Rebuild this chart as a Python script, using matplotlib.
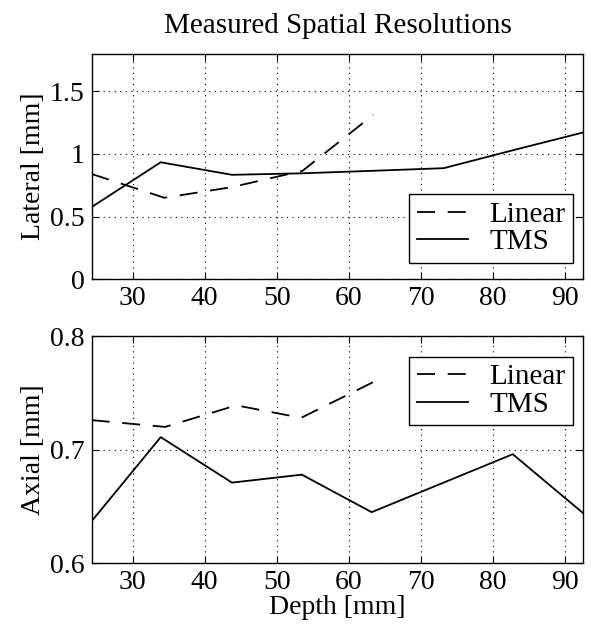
import numpy as np
import matplotlib
matplotlib.use("Agg")
from matplotlib import pyplot as plt

# 深度 (mm)
depth_linear = [24.3, 34.4, 43.8, 53.6, 63.4]
depth_tms = [24.3, 33.9, 43.8, 53.5, 63.3, 73.2, 82.9, 92.6]

# 横向分辨率 (mm)
lateral_linear = [0.84, 0.65, 0.735, 0.865, 1.31]
lateral_tms = [0.576, 0.933, 0.833, 0.845, 0.865, 0.886, 1.03, 1.171]

# 轴向分辨率 (mm)
depth_linear_ax = [24.3, 34.5, 44.4, 53.4, 63.6]
axial_linear = [0.726, 0.720, 0.739, 0.728, 0.760]
depth_tms_ax = [24.3, 33.9, 43.8, 53.5, 63.2, 82.8, 92.6]
axial_tms = [0.637, 0.711, 0.671, 0.678, 0.645, 0.696, 0.644]

plt.rcParams['font.family'] = ['Liberation Serif', 'DejaVu Serif']

fig = plt.figure(figsize=(5.91, 6.37), dpi=100)
ax1 = fig.add_axes([0.155, 0.5615, 0.832, 0.3545])
ax2 = fig.add_axes([0.155, 0.1157, 0.832, 0.3568])

dash = (0, (10, 7))
lw = 1.3
for ax in (ax1, ax2):
    ax.set_xlim(24.3, 92.6)
    ax.set_xticks([30, 40, 50, 60, 70, 80, 90])
    ax.tick_params(direction='in', top=True, right=True, labelsize=20,
                   length=5, width=0.8, pad=5)
    ax.grid(True, linestyle=(0, (1, 4)), color='black', linewidth=0.8)
    for s in ax.spines.values():
        s.set_linewidth(1.0)

leg_kw = dict(fontsize=21, fancybox=False, edgecolor='black', framealpha=1,
              handlelength=1.75, handletextpad=0.75, borderpad=0.25,
              labelspacing=0.03, borderaxespad=0)

ax1.plot(depth_linear, lateral_linear, color='black', linestyle=dash, linewidth=lw, label='Linear')
ax1.plot(depth_tms, lateral_tms, color='black', linewidth=lw, label='TMS')
ax1.set_ylim(0, 1.8)
ax1.set_yticks([0, 0.5, 1, 1.5])
ax1.set_yticklabels(['0', '0.5', '1', '1.5'])
ax1.set_ylabel('Lateral [mm]', fontsize=20, labelpad=3)
ax1.set_title('Measured Spatial Resolutions', fontsize=21, pad=15)
leg1 = ax1.legend(loc='lower right', bbox_to_anchor=(0.9695, 0.5876),
                  bbox_transform=fig.transFigure, **leg_kw)
leg1.get_frame().set_linewidth(1.0)

ax2.plot(depth_linear_ax, axial_linear, color='black', linestyle=dash, linewidth=lw, label='Linear')
ax2.plot(depth_tms_ax, axial_tms, color='black', linewidth=lw, label='TMS')
ax2.set_ylim(0.6, 0.8)
ax2.set_yticks([0.6, 0.7, 0.8])
ax2.set_yticklabels(['0.6', '0.7', '0.8'])
ax2.set_ylabel('Axial [mm]', fontsize=20, labelpad=3)
ax2.set_xlabel('Depth [mm]', fontsize=20, labelpad=0)
leg2 = ax2.legend(loc='upper right', bbox_to_anchor=(0.9695, 0.44),
                  bbox_transform=fig.transFigure, **leg_kw)
leg2.get_frame().set_linewidth(1.0)

fig.savefig('out.png', dpi=100)
